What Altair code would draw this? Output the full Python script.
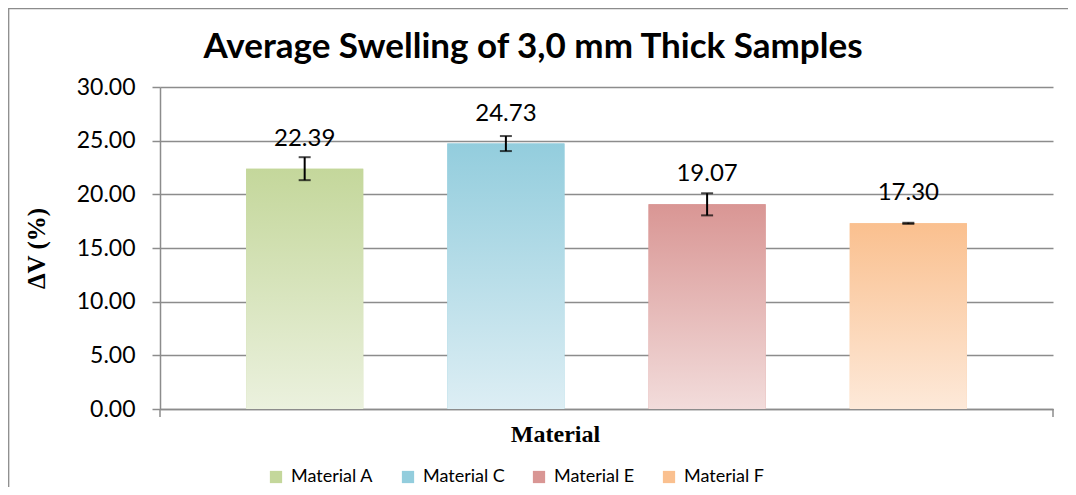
import altair as alt
import pandas as pd

# ---- data ----
materials = ["Material A", "Material C", "Material E", "Material F"]
swelling = [22.39, 24.73, 19.07, 17.30]
errors = [1.07, 0.70, 1.03, 0.05]

title_text = "Average Swelling of 3,0 mm Thick Samples"
x_title = "Material"
y_title = "ΔV (%)"
y_ticks = [0, 5, 10, 15, 20, 25, 30]

# ---- styles ----
top_colors = ["#c4d79b", "#93cddd", "#d99694", "#fac08f"]
bottom_colors = ["#ebf1de", "#ddeef4", "#f2dcdb", "#fde9d9"]
GRAY = "#8c8c8c"
W, H = 893, 322
PAD_L, PAD_T, PAD_R, PAD_B = 152, 79, 15, 78

df = pd.DataFrame({
    "material": materials,
    "swelling": swelling,
    "lo": [v - e for v, e in zip(swelling, errors)],
    "hi": [v + e for v, e in zip(swelling, errors)],
})

x_enc = alt.X(
    "material:N",
    scale=alt.Scale(domain=materials, paddingInner=0.418, paddingOuter=0.428),
    axis=alt.Axis(
        title=x_title, labels=False, ticks=False, grid=False,
        domain=True, domainColor=GRAY, domainWidth=1.5,
        titleFont="Liberation Serif", titleFontSize=24, titleFontWeight="bold",
        titleColor="black", titlePadding=13, titleX=395, titleAlign="center",
    ),
)
y_scale = alt.Scale(domain=[0, 30], nice=False)
y_enc = alt.Y(
    "swelling:Q",
    scale=y_scale,
    axis=alt.Axis(
        title=y_title, values=y_ticks, format=".2f",
        domain=True, domainColor=GRAY, domainWidth=1.5,
        ticks=True, tickColor=GRAY, tickSize=8, tickWidth=1.5,
        grid=True, gridColor=GRAY, gridWidth=1.5,
        labelFont="Lato", labelFontSize=23, labelColor="black", labelPadding=17,
        titleFont="Liberation Serif", titleFontSize=25, titleFontWeight="bold",
        titleColor="black", titlePadding=27,
    ),
)

base = alt.Chart(df)
one = alt.Chart(pd.DataFrame({"k": [0]}))

# outer chart frame (extends past the page edge on the right and bottom, clipped)
frame = one.mark_rect(stroke=GRAY, strokeWidth=1.3, fillOpacity=0).encode(
    x=alt.value(-PAD_L + 0.7), x2=alt.value(W + 200),
    y=alt.value(-PAD_T + 0.7), y2=alt.value(H + 200),
)

legend_bars = base.mark_bar().encode(
    x=x_enc,
    y=y_enc,
    color=alt.Color(
        "material:N",
        scale=alt.Scale(domain=materials, range=top_colors),
        legend=alt.Legend(
            title=None, orient="none", direction="horizontal",
            legendX=107, legendY=381,
            symbolType="square", symbolSize=150, symbolStrokeWidth=0,
            symbolOpacity=1,
            labelFont="Lato", labelFontSize=18, labelColor="black",
            columnPadding=25, labelOffset=6,
        ),
    ),
)

grad_layers = []
for m, c_top, c_bot in zip(materials, top_colors, bottom_colors):
    grad_layers.append(
        base.transform_filter(alt.datum.material == m)
        .mark_bar(
            color=alt.Gradient(
                gradient="linear", x1=0, x2=0, y1=0, y2=1,
                stops=[alt.GradientStop(color=c_top, offset=0),
                       alt.GradientStop(color=c_bot, offset=1)],
            )
        )
        .encode(x=alt.X("material:N"), y=alt.Y("swelling:Q"))
    )

err_rule = base.mark_rule(color="black", strokeWidth=2).encode(
    x="material:N", y="lo:Q", y2="hi:Q"
)
cap_lo = base.mark_tick(color="black", thickness=2, size=12).encode(
    x="material:N", y="lo:Q"
)
cap_hi = base.mark_tick(color="black", thickness=2, size=12).encode(
    x="material:N", y="hi:Q"
)

labels = base.mark_text(
    dy=-18, baseline="bottom", fontSize=24, font="Lato", color="black"
).encode(
    x="material:N", y="swelling:Q", text=alt.Text("swelling:Q", format=".2f")
)

title_mark = one.mark_text(
    font="Lato", fontSize=35, fontWeight="bold", color="black",
    align="center", baseline="alphabetic",
).encode(x=alt.value(373), y=alt.value(-29), text=alt.value(title_text))

end_tick_l = one.mark_rule(color=GRAY, strokeWidth=1.5).encode(
    x=alt.value(0), y=alt.value(H), y2=alt.value(H + 8)
)
end_tick_r = one.mark_rule(color=GRAY, strokeWidth=1.5).encode(
    x=alt.value(W), y=alt.value(H), y2=alt.value(H + 8)
)

chart = alt.layer(
    frame, legend_bars, *grad_layers, err_rule, cap_lo, cap_hi, labels,
    title_mark, end_tick_l, end_tick_r,
).properties(
    width=W, height=H,
    autosize=alt.AutoSizeParams(type="none"),
    padding={"left": PAD_L, "top": PAD_T, "right": PAD_R, "bottom": PAD_B},
).configure(
    background="white", view=alt.ViewConfig(stroke=None)
)

chart.save("out.html", embed_options={"renderer": "svg", "actions": False})
